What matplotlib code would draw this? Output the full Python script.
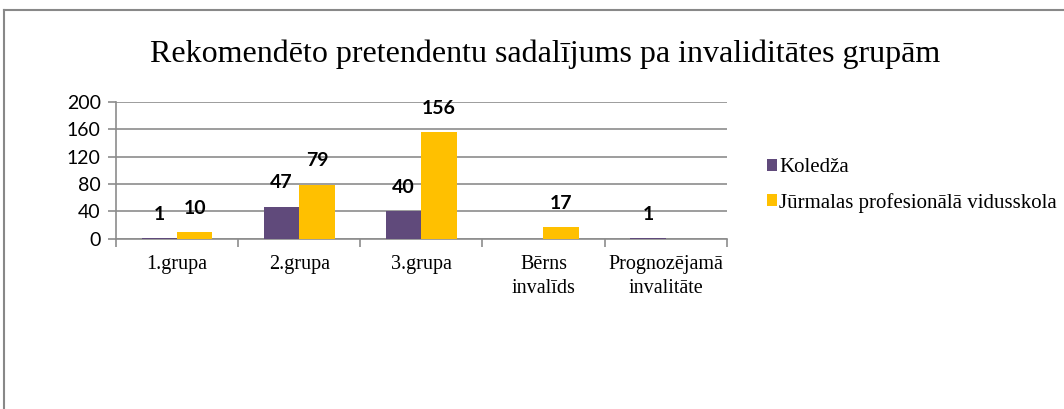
import numpy as np
import matplotlib.pyplot as plt
from matplotlib.lines import Line2D

# Data
categories = ['1.grupa', '2.grupa', '3.grupa', 'Bērns\ninvalīds', 'Prognozējamā\ninvalitāte']
koledza = [1, 47, 40, np.nan, 1]
jurmala = [10, 79, 156, 17, np.nan]
series_names = ['Koledža', 'Jūrmalas profesionālā vidusskola']
colors = ['#604A7B', '#FFC000']
y_ticks = [0, 40, 80, 120, 160, 200]

fig = plt.figure(figsize=(10.64, 4.09), dpi=100)
ax = fig.add_axes([0.109, 0.416, 0.574, 0.335])

x = np.arange(len(categories))
w = 0.29
for i, (vals, name, col) in enumerate(zip([koledza, jurmala], series_names, colors)):
    pos = x + (i - 0.5) * w
    ax.bar(pos, np.nan_to_num(vals), w, color=col, label=name, zorder=3)
    for p, v in zip(pos, vals):
        if not np.isnan(v):
            ax.annotate(f'{v:g}', (p, v), xytext=(0, 11), textcoords='offset points',
                        ha='center', va='bottom', fontsize=14, fontweight='bold',
                        family='Lato', color='black')

# Axes styling
ax.set_xlim(-0.5, len(categories) - 0.5)
ax.set_ylim(0, 200)
ax.set_yticks(y_ticks)
ax.set_yticklabels([str(t) for t in y_ticks], family='Lato', fontsize=14)
ax.yaxis.grid(True, color='#8c8c8c', linewidth=1.2, zorder=0)
ax.set_axisbelow(True)
for s in ['top', 'right']:
    ax.spines[s].set_visible(False)
ax.spines['left'].set_color('#8c8c8c')
ax.spines['bottom'].set_color('#8c8c8c')
ax.spines['left'].set_linewidth(1.2)
ax.spines['bottom'].set_linewidth(1.2)
ax.tick_params(axis='y', length=6, color='#8c8c8c', width=1.2, pad=5)

ax.set_xticks(np.arange(len(categories) + 1) - 0.5)
ax.set_xticklabels([])
ax.tick_params(axis='x', which='major', length=6, color='#8c8c8c', width=1.2)
ax.set_xticks(x, minor=True)
ax.set_xticklabels(categories, minor=True, family='Liberation Serif', fontsize=14.5,
                   linespacing=1.35)
ax.tick_params(axis='x', which='minor', length=0, pad=11.5)

# Legend
ax.legend(loc='center left', bbox_to_anchor=(1.035, 0.39), frameon=False,
          prop={'family': 'Liberation Serif', 'size': 15}, handlelength=0.5,
          handleheight=0.5, handletextpad=0.1, labelspacing=0.75)

# Title
fig.text(0.512, 0.868, 'Rekomendēto pretendentu sadalījums pa invaliditātes grupām',
         ha='center', va='center', family='Liberation Serif', fontsize=23)

# Outer chart frame
fig.add_artist(Line2D([0.004, 0.004], [0, 0.976], color='#888888', linewidth=1.5))
fig.add_artist(Line2D([0.004, 1.0], [0.976, 0.976], color='#888888', linewidth=1.5))

fig.savefig('out.png', dpi=100)
